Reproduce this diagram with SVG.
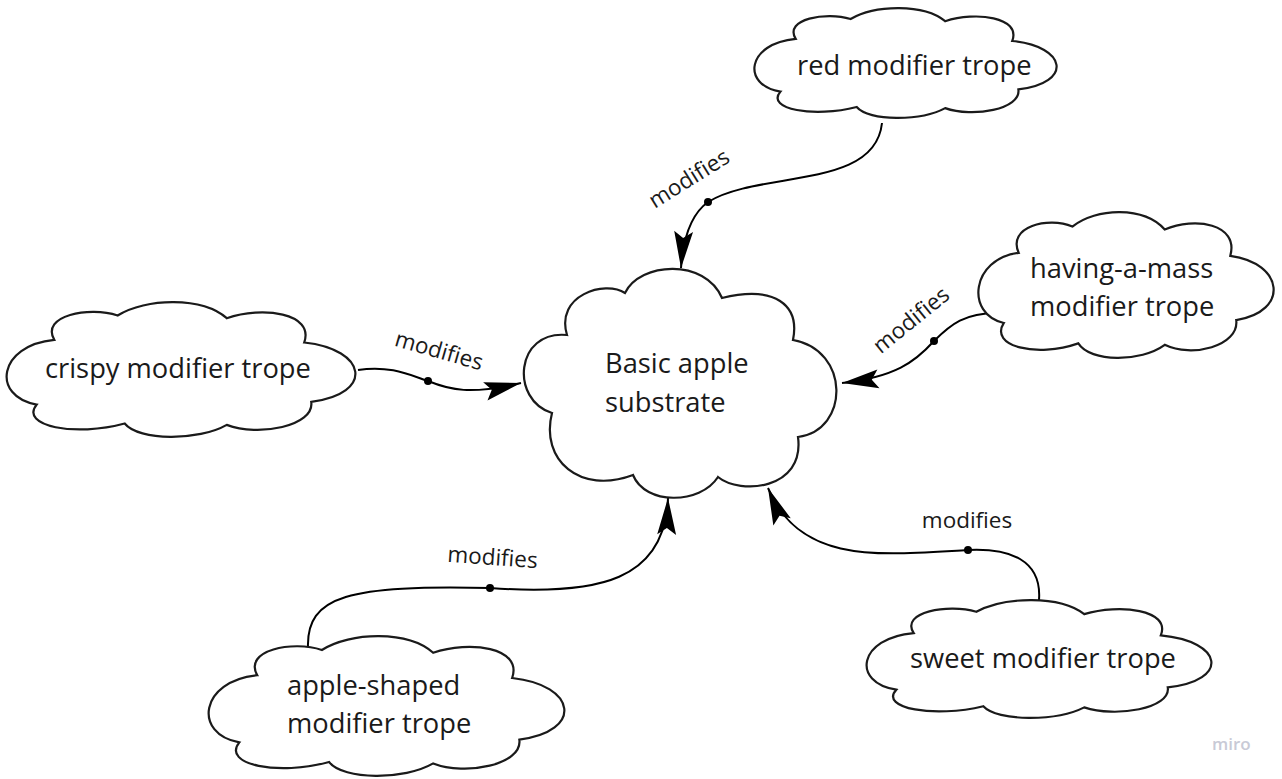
<svg xmlns="http://www.w3.org/2000/svg" width="1282" height="779" viewBox="0 0 1282 779">
<style>
.cloud{fill:#fff;stroke:#1a1a1a;stroke-width:2.2}
.t{font-family:"Open Sans","Noto Sans",sans-serif;font-size:27.3px;fill:#1a1a1a}
.lbl{font-family:"Open Sans","Noto Sans",sans-serif;font-size:22.5px;fill:#1a1a1a;text-anchor:middle}
.edge{fill:none;stroke:#000;stroke-width:2;marker-end:url(#arr)}
.dot{fill:#000}
</style>
<defs>
<marker id="arr" markerUnits="userSpaceOnUse" markerWidth="40" markerHeight="40" viewBox="-34 -10 36 20" refX="0" refY="0" orient="auto">
<path d="M0,0 L-33,-8.5 L-27,0 L-33,8.5 Z" fill="#000"/>
</marker>
</defs>
<rect width="1282" height="779" fill="#fff"/>

<g id="connectors">
<path class="edge" d="M882,123 C875,190 760,170 708,202 C690,215 683,240 681,268"/>
<circle class="dot" cx="708" cy="202" r="4"/>
<text class="lbl" transform="translate(693,185) rotate(-32)">modifies</text>

<path class="edge" d="M358,370 C390,365 410,375 428,381 C450,390 470,395 521,383"/>
<circle class="dot" cx="428" cy="381" r="4"/>
<text class="lbl" transform="translate(437,358) rotate(16)">modifies</text>

<path class="edge" d="M1000,313 C965,312 950,325 934,341 C915,362 895,377 842,383"/>
<circle class="dot" cx="934" cy="341" r="4"/>
<text class="lbl" transform="translate(916,326) rotate(-39)">modifies</text>

<path class="edge" d="M308,648 C306,595 350,585 490,588 C600,596 665,580 668,498"/>
<circle class="dot" cx="490" cy="588" r="4"/>
<text class="lbl" transform="translate(492,565) rotate(4)">modifies</text>

<path class="edge" d="M1039,600 C1042,560 1010,548 968,550 C880,555 800,565 768,488"/>
<circle class="dot" cx="968" cy="550" r="4"/>
<text class="lbl" transform="translate(967,528)">modifies</text>
</g>

<g id="basic">
<path class="cloud" d="M625,293 C640,262 705,258 722,298 C775,285 800,305 793,340 C850,350 850,430 798,437 C805,490 740,495 718,477 C700,505 645,505 633,475 C580,495 540,460 552,413 C510,400 515,330 567,335 C555,295 605,280 625,293 Z"/>
<text class="t" x="605" y="373">Basic apple</text>
<text class="t" x="605" y="412">substrate</text>
</g>

<g id="red">
<path class="cloud" vector-effect="non-scaling-stroke" transform="translate(753,8) scale(3.05,1.10)" d="M32,10 C40,-3 56,-4 63,12 C73,3 88,8 85,30 C103,35 105,68 87,74 C88,92 72,100 63,91 C55,103 38,103 34,90 C20,100 4,92 9,76 C-4,70 -2,32 14,28 C10,10 24,3 32,10 Z"/>
<text class="t" x="797" y="75">red modifier trope</text>
</g>

<g id="crispy">
<path class="cloud" vector-effect="non-scaling-stroke" transform="translate(5,302) scale(3.52,1.35)" d="M32,10 C40,-3 56,-4 63,12 C73,3 88,8 85,30 C103,35 105,68 87,74 C88,92 72,100 63,91 C55,103 38,103 34,90 C20,100 4,92 9,76 C-4,70 -2,32 14,28 C10,10 24,3 32,10 Z"/>
<text class="t" x="45" y="378">crispy modifier trope</text>
</g>

<g id="mass">
<path class="cloud" vector-effect="non-scaling-stroke" transform="translate(977,212) scale(2.98,1.46)" d="M32,10 C40,-3 56,-4 63,12 C73,3 88,8 85,30 C103,35 105,68 87,74 C88,92 72,100 63,91 C55,103 38,103 34,90 C20,100 4,92 9,76 C-4,70 -2,32 14,28 C10,10 24,3 32,10 Z"/>
<text class="t" x="1030" y="278">having-a-mass</text>
<text class="t" x="1030" y="316">modifier trope</text>
</g>

<g id="appleshaped">
<path class="cloud" vector-effect="non-scaling-stroke" transform="translate(207,636) scale(3.59,1.40)" d="M32,10 C40,-3 56,-4 63,12 C73,3 88,8 85,30 C103,35 105,68 87,74 C88,92 72,100 63,91 C55,103 38,103 34,90 C20,100 4,92 9,76 C-4,70 -2,32 14,28 C10,10 24,3 32,10 Z"/>
<text class="t" x="287" y="695">apple-shaped</text>
<text class="t" x="287" y="733">modifier trope</text>
</g>

<g id="sweet">
<path class="cloud" vector-effect="non-scaling-stroke" transform="translate(865,600) scale(3.48,1.18)" d="M32,10 C40,-3 56,-4 63,12 C73,3 88,8 85,30 C103,35 105,68 87,74 C88,92 72,100 63,91 C55,103 38,103 34,90 C20,100 4,92 9,76 C-4,70 -2,32 14,28 C10,10 24,3 32,10 Z"/>
<text class="t" x="910" y="668">sweet modifier trope</text>
</g>

<text x="1212" y="750" style="font-family:'Open Sans',sans-serif;font-size:17px;font-weight:600;fill:#c8cad6">miro</text>
</svg>
